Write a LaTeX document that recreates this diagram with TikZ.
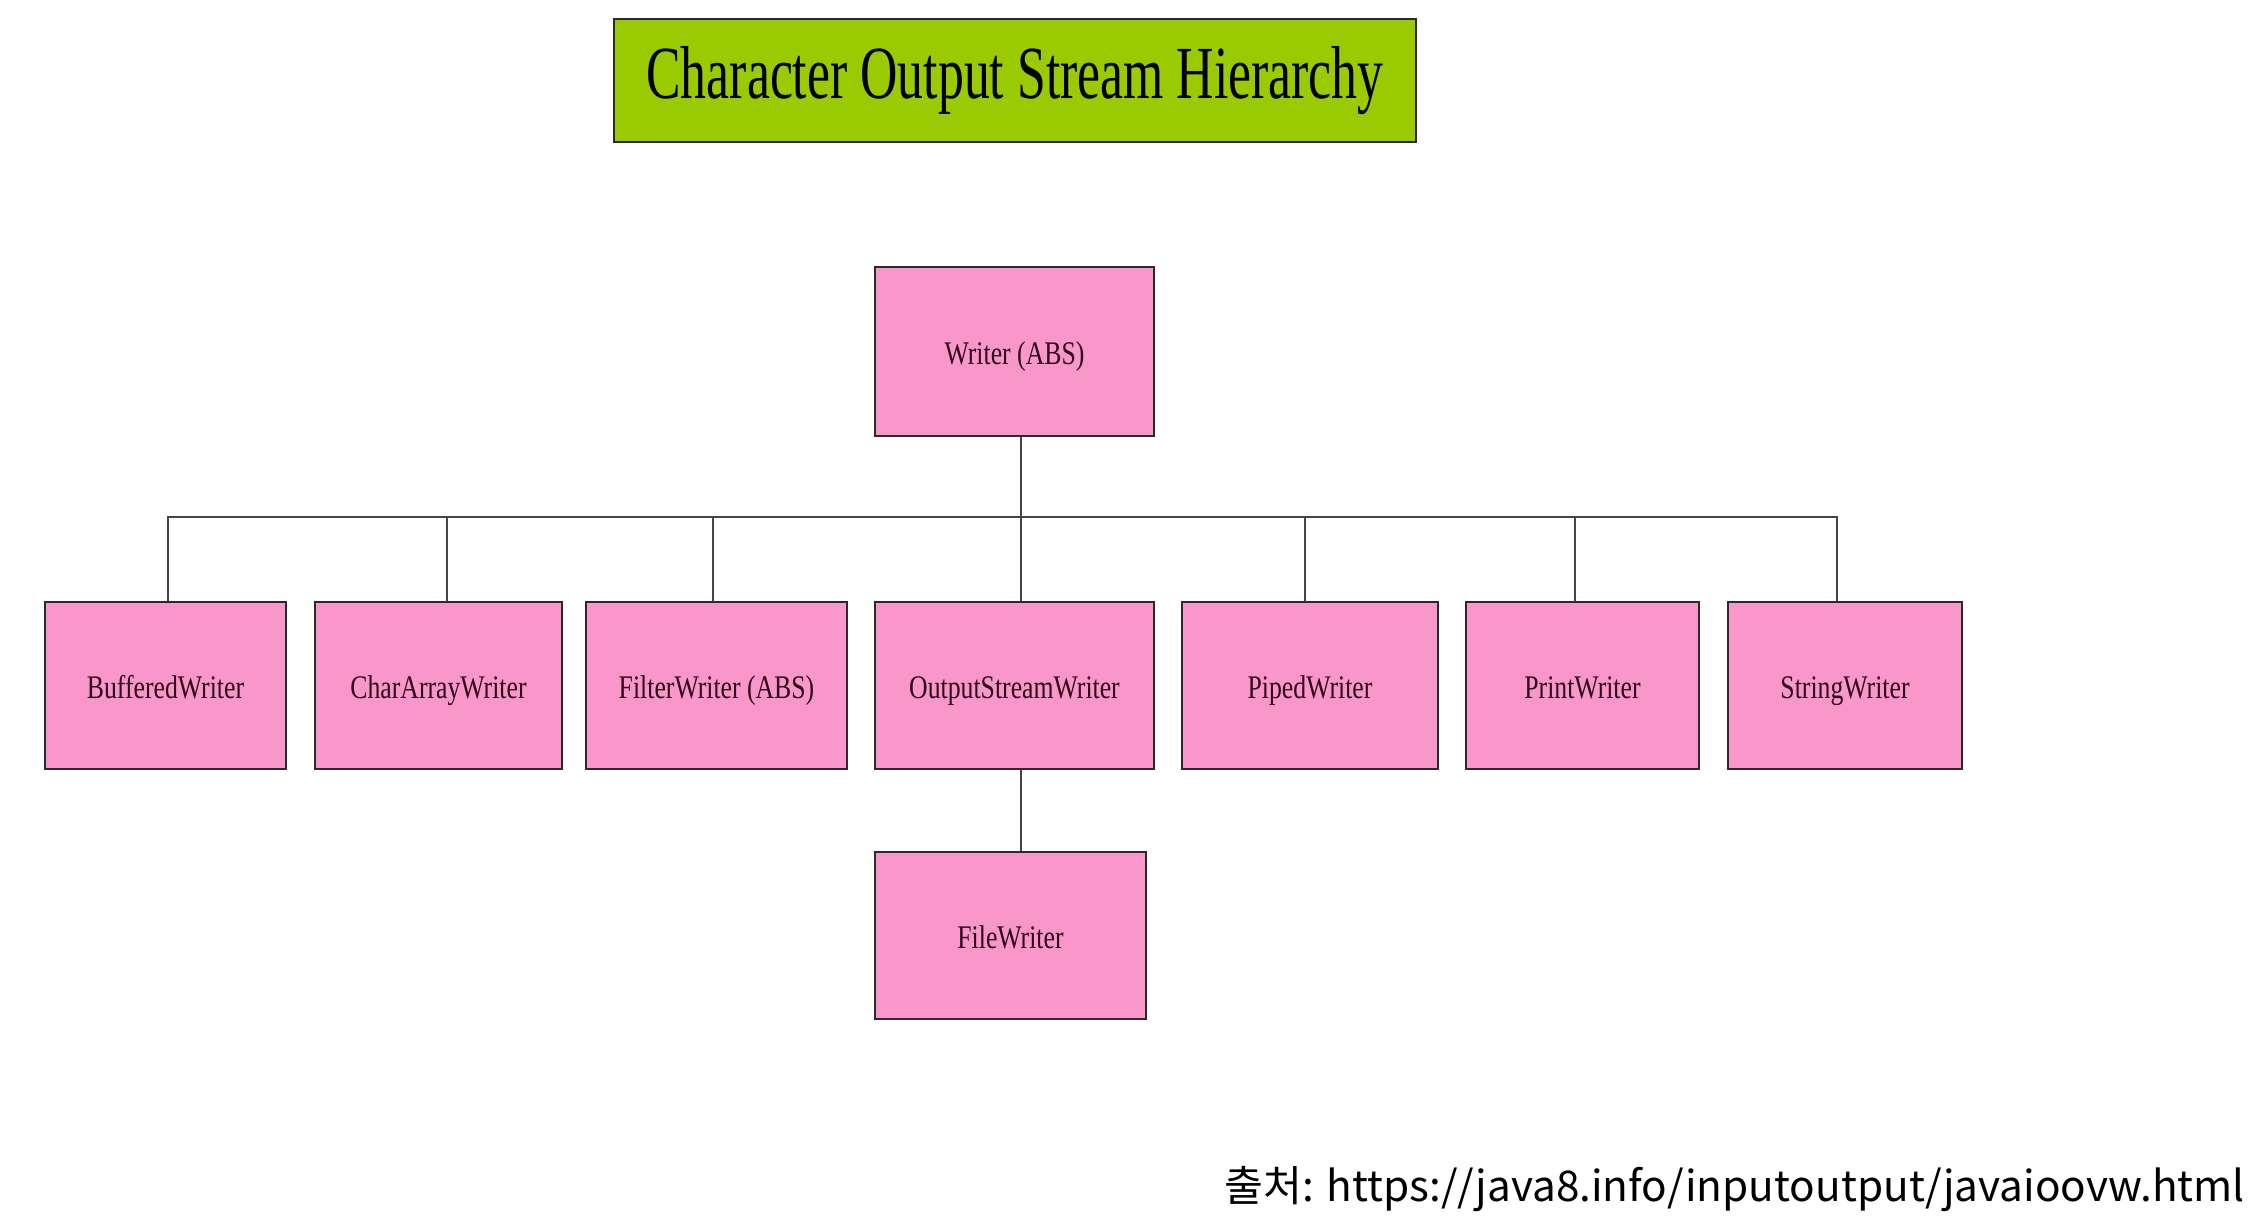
\documentclass[tikz,border=0pt]{standalone}
\usepackage{fontspec}
\setmainfont{Liberation Serif}
\newfontfamily\krfont{Noto Sans CJK KR}
\usepackage{graphicx}
\definecolor{boxpink}{HTML}{FA97CA}
\definecolor{titlegreen}{HTML}{9ACB02}
\definecolor{boxtext}{HTML}{2E0818}
\definecolor{boxline}{HTML}{2A2A2A}
\definecolor{wireline}{HTML}{454545}
\tikzset{
  classbox/.style={draw=boxline, line width=2.6pt, fill=boxpink, rectangle, inner sep=0pt,
    text=boxtext, font=\fontsize{33}{36}\selectfont, text height=26pt, text depth=0pt},
  titlebox/.style={draw=boxline, line width=2.8pt, fill=titlegreen, rectangle, inner sep=0pt,
    text=black, font=\fontsize{75}{80}\selectfont},
  wire/.style={draw=wireline, line width=2.2pt},
}
\newcommand{\sq}[1]{\scalebox{0.78}[1]{#1}}
\begin{document}
\begin{tikzpicture}[x=1pt,y=-1pt]
\useasboundingbox[fill=white] (0,0) rectangle (2254,1221);

\node[titlebox, minimum width=802, minimum height=123] (title) at (1015,80.5)
  {\scalebox{0.69}[1]{Character Output Stream Hierarchy}};

\node[classbox, minimum width=279, minimum height=169] (writer) at (1014.5,351.5) {\sq{Writer (ABS)}};

\node[classbox, minimum width=241, minimum height=167] (buf) at (165.5,685.5) {\sq{BufferedWriter}};
\node[classbox, minimum width=247, minimum height=167] (car) at (438.5,685.5) {\sq{CharArrayWriter}};
\node[classbox, minimum width=261, minimum height=167] (fil) at (716.5,685.5) {\sq{FilterWriter (ABS)}};
\node[classbox, minimum width=279, minimum height=167] (osw) at (1014.5,685.5) {\sq{OutputStreamWriter}};
\node[classbox, minimum width=256, minimum height=167] (pip) at (1310,685.5) {\sq{PipedWriter}};
\node[classbox, minimum width=233, minimum height=167] (pri) at (1582.5,685.5) {\sq{PrintWriter}};
\node[classbox, minimum width=234, minimum height=167] (str) at (1845,685.5) {\sq{StringWriter}};

\node[classbox, minimum width=271, minimum height=167] (file) at (1010.5,935.5) {\sq{FileWriter}};

\coordinate (bus) at (0,517);

% bus and drops
\draw[wire] ([xshift=2.5pt]buf.north) |- ([xshift=-8pt]str.north |- bus) -- ([xshift=-8pt]str.north);
\draw[wire] ([xshift=6.5pt]writer.south) -- ([xshift=6.5pt]writer.south |- bus);
\draw[wire] ([xshift=8.5pt]car.north) -- ([xshift=8.5pt]car.north |- bus);
\draw[wire] ([xshift=-3.5pt]fil.north) -- ([xshift=-3.5pt]fil.north |- bus);
\draw[wire] ([xshift=6.5pt]osw.north) -- ([xshift=6.5pt]osw.north |- bus);
\draw[wire] ([xshift=-5pt]pip.north) -- ([xshift=-5pt]pip.north |- bus);
\draw[wire] ([xshift=-7.5pt]pri.north) -- ([xshift=-7.5pt]pri.north |- bus);
\draw[wire] ([xshift=6.5pt]osw.south) -- ([xshift=6.5pt]osw.south |- file.north);

\node[anchor=south east, inner sep=0pt, font=\krfont] (src) at (2245,1212)
  {\resizebox{1020pt}{!}{출처: https://java8.info/inputoutput/javaioovw.html}};
\end{tikzpicture}
\end{document}
